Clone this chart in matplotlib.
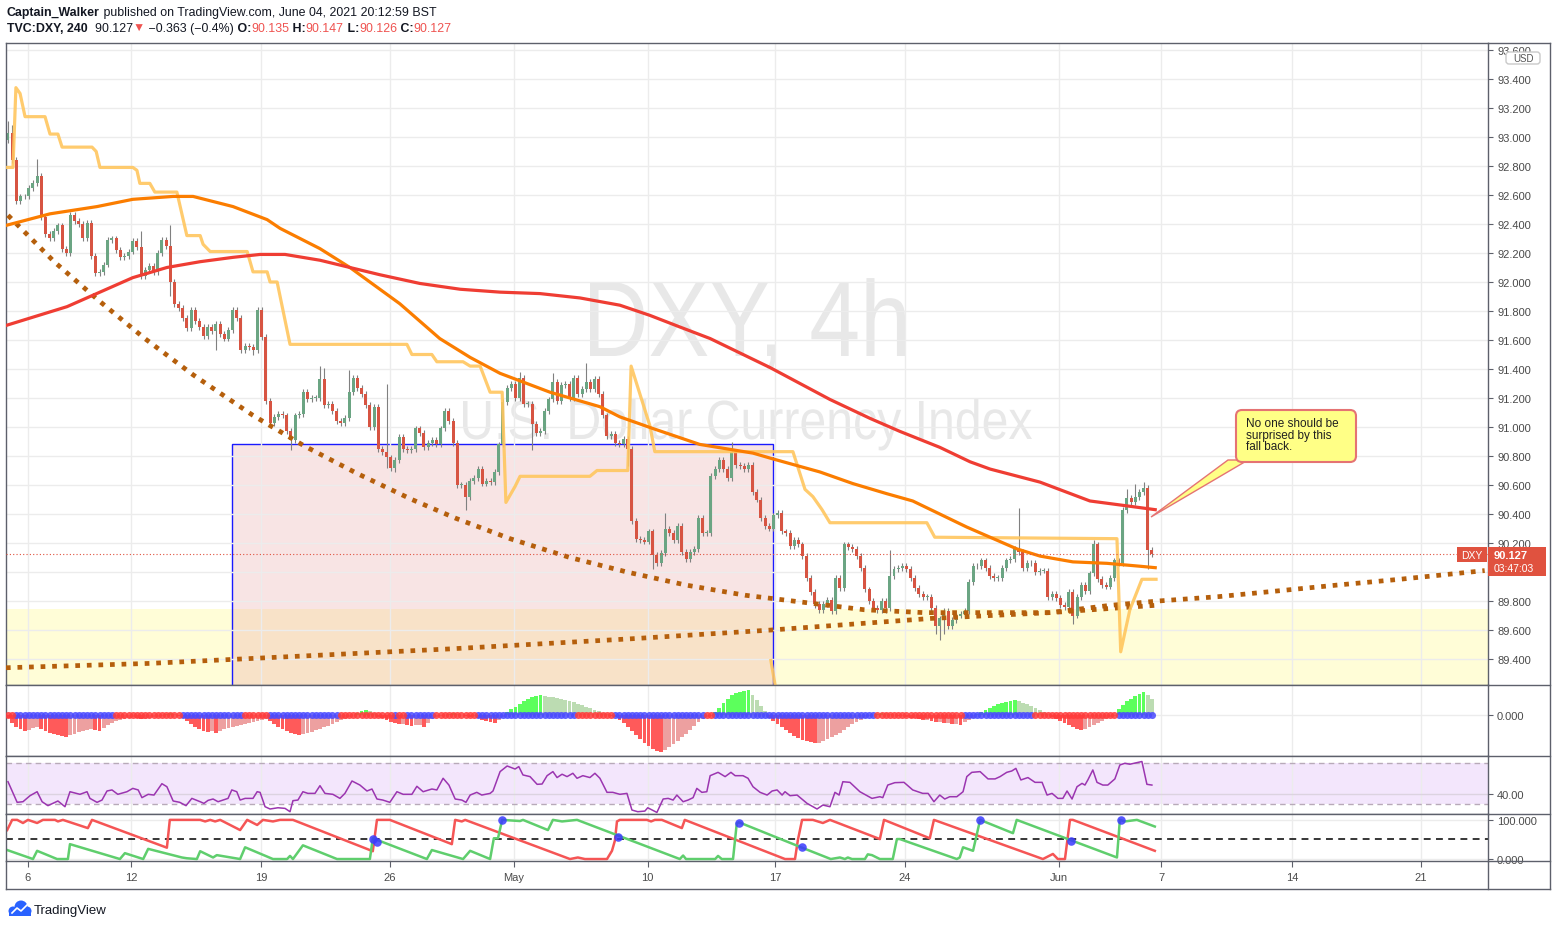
import numpy as np
import matplotlib
matplotlib.use("Agg")
import matplotlib.pyplot as plt
from matplotlib.patches import Rectangle, FancyBboxPatch, Polygon, PathPatch, Circle
from matplotlib.lines import Line2D
from matplotlib.textpath import TextPath
from matplotlib.font_manager import FontProperties
from matplotlib.transforms import Affine2D, IdentityTransform

# ---------------- data (TVC:DXY, 4h bars) ----------------
first_open = 92.98
closes = [
    93.03, 92.84, 92.56, 92.59, 92.59, 92.65, 92.68, 92.73, 92.45, 92.33,
    92.30, 92.35, 92.39, 92.23, 92.20, 92.46, 92.42, 92.40, 92.30, 92.41,
    92.18, 92.06, 92.07, 92.12, 92.29, 92.30, 92.22, 92.17, 92.18, 92.21,
    92.28, 92.24, 92.04, 92.08, 92.11, 92.07, 92.20, 92.29, 92.25, 92.00,
    91.85, 91.82, 91.75, 91.68, 91.81, 91.73, 91.69, 91.63, 91.69, 91.66,
    91.71, 91.64, 91.61, 91.67, 91.81, 91.75, 91.53, 91.56, 91.55, 91.53,
    91.81, 91.62, 91.18,
    91.03, 91.07, 91.09, 91.08, 90.97, 90.91, 91.08, 91.09, 91.24, 91.19,
    91.20, 91.20, 91.33, 91.15, 91.16, 91.11, 91.04, 91.03, 91.06, 91.24,
    91.34, 91.27, 91.23, 91.15, 91.00, 91.14, 90.85, 90.83, 90.79, 90.72,
    90.77, 90.93, 90.85, 90.84, 90.85, 90.99, 90.96, 90.86, 90.89, 90.91,
    90.88, 90.99, 91.11, 91.04, 90.89, 90.60, 90.60, 90.52, 90.63, 90.65,
    90.71, 90.61, 90.63, 90.62, 90.69, 90.88, 91.17, 91.27, 91.30, 91.20,
    91.34, 91.16, 91.16, 91.02, 90.96, 90.97, 91.11, 91.19, 91.31, 91.18,
    91.29, 91.30, 91.20, 91.34, 91.23, 91.26, 91.31, 91.26, 91.33, 91.23,
    91.08, 90.94, 90.95, 90.89, 90.88, 90.92, 90.85, 90.35,
    90.23, 90.22, 90.21, 90.28, 90.12, 90.06, 90.13, 90.30, 90.27, 90.22,
    90.32, 90.14, 90.09, 90.14, 90.16, 90.37, 90.27, 90.27, 90.66, 90.71,
    90.77, 90.71, 90.65, 90.83, 90.74, 90.73, 90.71, 90.74, 90.55, 90.50,
    90.37, 90.32, 90.30, 90.39, 90.41, 90.28, 90.27, 90.18, 90.22, 90.19,
    90.11, 89.96, 89.86, 89.78, 89.74, 89.78, 89.81, 89.73, 89.96, 89.89,
    90.19, 90.17, 90.16, 90.11, 90.03, 89.88, 89.80, 89.75, 89.74, 89.80,
    89.75, 89.97, 90.02, 90.03, 90.04, 90.02, 89.96, 89.89, 89.85, 89.83,
    89.83, 89.75, 89.63, 89.68, 89.73, 89.63, 89.67, 89.70, 89.71, 89.73,
    89.93,
    90.04, 90.04, 90.08, 90.03, 89.97, 89.96, 89.96, 90.03, 90.08, 90.09,
    90.16, 90.14, 90.03, 90.06, 90.06, 90.00, 90.01, 90.01, 89.83, 89.85,
    89.82, 89.77, 89.76, 89.86, 89.70, 89.83, 89.91, 89.87, 89.99, 90.19,
    89.95, 89.91, 89.90, 89.96, 90.08, 90.06, 90.43, 90.51, 90.48, 90.52,
    90.55, 90.58, 90.15, 90.127,
]
# longer wicks visible on the chart (bar index: price)
hi_ext = {0: 93.11, 1: 93.08, 7: 92.85, 32: 92.35, 39: 92.39, 75: 91.42, 76: 91.41,
          82: 91.39, 91: 91.30, 105: 91.13, 123: 91.38, 131: 91.37, 139: 91.44,
          158: 90.41, 174: 90.90, 212: 90.15, 243: 90.44, 261: 90.22, 269: 90.57,
          271: 90.61, 273: 90.62}
lo_ext = {2: 92.54, 39: 91.90, 50: 91.53, 59: 91.50, 68: 90.84, 91: 90.72, 93: 90.69,
          110: 90.43, 126: 90.84, 149: 90.73, 155: 90.02, 194: 89.75, 211: 89.72,
          223: 89.57, 224: 89.53, 225: 89.57, 256: 89.64, 274: 90.02}

# moving averages / study lines as (bar index, price) vertices
ma_red_i = [-0.5, 14.2, 30.0, 38.2, 46.2, 54.1, 60.6, 66.6, 75.0, 82.2, 89.4, 99.0, 108.7,
            118.3, 127.9, 137.5, 147.1, 154.3, 161.5, 168.8, 176.0, 183.2, 190.4, 197.6,
            207.2, 214.4, 224.0, 231.3, 236.1, 248.1, 260.1, 268.0, 275.8]
ma_red_p = [91.70, 91.83, 92.03, 92.10, 92.14, 92.17, 92.19, 92.19, 92.15, 92.10, 92.05,
            91.99, 91.95, 91.93, 91.92, 91.89, 91.84, 91.77, 91.69, 91.61, 91.51, 91.41,
            91.30, 91.19, 91.06, 90.97, 90.86, 90.76, 90.71, 90.62, 90.49, 90.46, 90.43]
ma_org_i = [-0.5, 10.1, 21.4, 30.0, 39.7, 44.5, 54.1, 62.3, 65.4, 75.0, 82.2, 94.2, 103.8,
            111.1, 118.3, 130.3, 142.3, 147.1, 155.0, 166.3, 179.1, 183.9, 195.2, 203.1,
            211.3, 217.5, 224.0, 230.5, 236.1, 242.5, 248.1, 256.0, 264.2, 272.1, 275.8]
ma_org_p = [92.39, 92.47, 92.52, 92.57, 92.59, 92.59, 92.52, 92.43, 92.37, 92.23, 92.10,
            91.85, 91.61, 91.48, 91.37, 91.24, 91.14, 91.07, 90.99, 90.88, 90.82, 90.78,
            90.69, 90.61, 90.54, 90.49, 90.40, 90.31, 90.24, 90.16, 90.11, 90.07, 90.06,
            90.04, 90.03]
stop_i = [-0.5, 1.2, 1.9, 2.9, 4.1, 8.9, 10.1, 12.0, 13.0, 20.2, 21.2, 22.1, 30.0, 31.0,
          31.7, 34.1, 35.3, 40.6, 43.0, 46.2, 46.9, 48.6, 57.5, 58.9, 62.3, 63.0, 64.7,
          67.8, 95.9, 97.1, 101.9, 103.1, 109.4, 111.1, 113.5, 115.9, 118.8, 119.7, 121.9,
          123.1, 139.9, 141.6, 149.0, 149.8, 154.3, 155.5, 188.7, 191.6, 193.5, 195.7,
          197.6, 220.9, 222.8, 266.6, 267.5, 269.7, 272.6, 276.0]
stop_p = [92.79, 92.79, 93.34, 93.30, 93.14, 93.14, 93.02, 93.02, 92.93, 92.93, 92.90,
          92.79, 92.79, 92.77, 92.68, 92.68, 92.62, 92.62, 92.32, 92.32, 92.26, 92.21,
          92.21, 92.07, 92.07, 92.00, 92.00, 91.57, 91.57, 91.50, 91.50, 91.45, 91.45,
          91.42, 91.42, 91.24, 91.24, 90.48, 90.59, 90.66, 90.66, 90.70, 90.70, 91.42,
          91.01, 90.83, 90.83, 90.57, 90.52, 90.43, 90.34, 90.34, 90.24, 90.23, 89.45,
          89.74, 89.95, 89.95]
stop_tail_i = [183.4, 184.6]
stop_tail_p = [89.39, 89.19]
curve_i = [0, 11.1, 21.9, 32.9, 44.5, 58.9, 71.2, 83.9, 97.1, 107.7, 120.7, 135.1, 148.8,
           163.0, 177.2, 191.6, 205.8, 220.2, 234.9, 250.5, 264.9, 276.4, 290.9, 305.3,
           319.5, 334.6, 355.0]
curve_p = [92.46, 92.14, 91.87, 91.61, 91.36, 91.08, 90.87, 90.68, 90.50, 90.37, 90.23,
           90.10, 90.00, 89.91, 89.84, 89.79, 89.74, 89.72, 89.72, 89.72, 89.77, 89.80,
           89.83, 89.87, 89.91, 89.95, 90.01]
slow_i = [-0.5, 34.1, 70.2, 106.3, 150.0, 183.4, 221.9, 250.5, 275.7]
slow_p = [89.34, 89.37, 89.42, 89.47, 89.54, 89.60, 89.68, 89.72, 89.77]

zone_pink = (53.8, 183.9, 90.883)   # bar from, bar to, top price
zone_yellow_top = 89.745
last_price = 90.127

# squeeze momentum histogram (per bar, x0.01)
squeeze = [
    -3, -8, -12, -14, -16, -15, -13, -12, -14, -16, -18, -19, -20, -21, -22,
    -20, -19, -17, -16, -15, -14, -15, -16, -13, -10, -8, -6, -5, -4,
    -3, -2, -3, -4, -4, -3, -2, -2, -1, 1, 2, 1, -1,
    -3, -6, -9, -12, -14, -16, -17, -16, -18, -16, -14, -13, -12, -11, -10,
    -9, -8, -7, -6, -5, -4, -6, -9, -12, -14, -16, -18, -19, -20,
    -19, -18, -17, -15, -14, -12, -11, -9, -7, -5, -4, -2, 0, 2, 4, 5, 4, 2,
    -2, -3, -5, -7, -8, -9, -9, -10, -11, -10, -10, -12, -8, -4,
    -2, -1, 0, 1, 2, 1, 0, -1, -2, -1, -3, -5, -6, -7, -8, -5, -2,
    3, 6, 8, 11, 14, 16, 18, 19, 20, 19, 18, 18,
    17, 16, 15, 14, 13, 11, 10, 8, 7, 5, 4, 2, 1, -1, -2,
    -5, -8, -12, -16, -20, -24, -28, -31, -34, -36, -37,
    -35, -32, -29, -26, -22, -19, -15, -11, -7, -4, -2, -1,
    3, 7, 12, 16, 20, 22, 23, 24, 25, 20, 15, 9, 4,
    -3, -6, -9, -12, -15, -18, -21, -23, -25, -26, -27, -28, -28,
    -26, -24, -22, -20, -18, -15, -12, -9, -7, -5, -3,
    -1, 0, 1, 2, 2, 1, 0, -1, -1, -2,
    -3, -3, -4, -5, -5, -6, -7, -7, -8, -8, -9, -9, -10, -7, -5, -3,
    1, 3, 5, 7, 9, 11, 12, 13, 14, 15, 14, 12, 11, 9, 7, 5, 3, 1, -2,
    -4, -6, -8, -10, -12, -14, -15, -14, -12, -10, -8, -6, -4, -2, -1,
    6, 10, 14, 16, 19, 21, 23, 20, 16,
]
squeeze_on_runs = [(0, 1), (26, 41), (57, 62), (80, 92), (94, 95), (103, 112),
                   (137, 145), (168, 169), (209, 229), (247, 266)]

rsi_i = [0.0, 2.2, 3.6, 5.3, 7.0, 8.2, 9.6, 12.0, 13.7, 14.9, 17.3, 19.0, 19.7, 21.4, 22.6,
         23.8, 25.0, 26.4, 28.6, 30.0, 31.3, 32.2, 33.7, 35.1, 37.0, 38.2, 39.7, 41.3, 42.8,
         44.2, 46.2, 47.1, 48.1, 49.3, 50.5, 52.9, 53.8, 55.0, 55.8, 57.0, 58.9, 59.9, 60.6,
         61.8, 63.0, 64.9, 66.6, 67.8, 68.5, 69.7, 70.9, 72.1, 73.8, 75.0, 76.2, 78.1, 79.8,
         81.0, 82.7, 84.6, 86.3, 87.5, 88.7, 90.1, 91.8, 93.5, 95.0, 97.1, 98.3, 99.8,
         101.9, 103.1, 104.6, 106.0, 107.5, 109.1, 110.1, 111.1, 112.7, 113.9, 115.9, 116.6,
         118.3, 120.0, 121.9, 122.8, 123.8, 125.5, 127.2, 128.4, 129.6, 131.0, 132.0, 133.2,
         134.4, 135.8, 136.8, 138.2, 139.9, 141.1, 142.3, 144.0, 145.4, 147.1, 148.8, 150.0,
         151.4, 153.1, 153.8, 156.0, 157.5, 158.7, 159.9, 160.8, 162.3, 163.5, 164.7, 165.6,
         166.8, 168.0, 168.8, 170.7, 172.4, 173.8, 174.8, 176.7, 177.9, 179.1, 180.8, 182.5,
         183.7, 184.9, 186.1, 186.8, 188.0, 189.7, 192.1, 194.5, 195.9, 197.6, 198.8, 199.8,
         200.7, 202.4, 204.8, 207.7, 209.6, 210.3, 211.5, 213.2, 215.4, 217.5, 219.9, 221.2,
         222.6, 224.0, 225.2, 226.4, 228.1, 229.6, 230.5, 231.7, 233.7, 235.6, 237.3, 238.5,
         240.1, 241.3, 242.3, 243.5, 245.2, 246.9, 248.6, 249.8, 251.0, 252.4, 253.6, 254.6,
         255.8, 257.0, 258.2, 258.9, 259.6, 260.8, 261.8, 263.2, 264.4, 266.1, 267.3, 268.5,
         269.7, 272.6, 273.8, 275.0]
rsi_v = [51.8, 32.0, 32.6, 38.4, 42.2, 32.6, 28.8, 33.3, 27.8, 42.2, 39.7, 42.2, 35.8, 32.0,
         34.2, 42.9, 43.9, 39.7, 42.2, 45.4, 43.9, 36.5, 39.7, 39.0, 49.9, 47.0, 33.3, 32.0,
         28.8, 35.8, 32.6, 31.0, 33.9, 35.2, 32.6, 35.8, 43.9, 42.2, 34.2, 35.8, 35.8, 42.2,
         41.6, 27.8, 25.6, 26.8, 26.2, 23.0, 33.6, 34.2, 42.2, 40.6, 40.6, 48.0, 40.6, 39.7,
         35.8, 40.6, 52.5, 48.6, 42.9, 44.8, 35.2, 34.2, 32.0, 42.2, 39.7, 39.7, 47.4, 42.2,
         44.8, 43.9, 55.1, 48.6, 35.2, 34.2, 32.0, 39.0, 41.6, 39.0, 40.6, 42.9, 61.5, 66.9,
         64.0, 66.3, 58.3, 56.7, 49.3, 49.6, 57.6, 61.5, 55.8, 59.0, 56.7, 59.9, 55.1, 57.6,
         55.8, 59.9, 55.1, 41.6, 41.6, 39.7, 40.6, 24.6, 23.0, 23.6, 26.8, 22.3, 35.2, 35.8,
         34.2, 39.0, 32.6, 34.2, 36.5, 45.4, 41.6, 42.2, 57.6, 60.8, 56.7, 60.8, 57.6, 57.6,
         55.1, 47.0, 41.6, 39.0, 42.9, 43.9, 39.0, 42.2, 38.4, 39.0, 31.0, 25.6, 29.4, 27.8,
         41.6, 39.0, 51.8, 51.2, 42.2, 35.8, 37.4, 36.5, 48.6, 50.9, 51.2, 43.9, 40.6, 40.6,
         32.6, 39.0, 35.2, 37.4, 37.4, 42.2, 56.7, 60.8, 61.5, 54.5, 54.5, 56.7, 60.8, 62.1,
         64.6, 53.5, 55.8, 51.2, 51.2, 39.0, 40.6, 35.8, 35.8, 42.9, 35.2, 47.0, 50.2, 48.6,
         53.5, 63.1, 51.2, 48.6, 48.6, 54.5, 67.9, 69.5, 68.6, 71.2, 49.3, 48.6]

aroon_dn_i = [-0.2, 1.0, 2.2, 3.6, 4.8, 7.0, 8.4, 11.3, 12.0, 13.2, 19.2, 20.2, 38.2, 38.9,
              46.2, 47.4, 48.6, 49.8, 51.0, 55.8, 57.5, 59.9, 61.3, 63.7, 65.4, 68.5, 87.7,
              88.7, 91.8, 106.7, 107.5, 109.1, 109.9, 135.1, 137.0, 138.7, 144.0, 145.2,
              145.9, 146.4, 147.1, 153.6, 154.6, 155.5, 157.2, 162.0, 162.7, 186.8, 189.2,
              189.9, 190.9, 193.5, 195.9, 197.6, 209.6, 210.6, 221.6, 222.6, 248.8, 251.2,
              252.4, 254.1, 255.3, 256.0, 275.7]
aroon_dn_v = [74, 100, 100, 92, 100, 92, 100, 100, 96, 100, 79, 100, 29, 100, 100, 96, 100,
              96, 100, 74, 100, 87, 100, 96, 100, 100, 20, 100, 100, 38, 100, 96, 100, 0, 4,
              0, 0, 21, 47, 96, 100, 100, 96, 100, 100, 79, 100, 0, 0, 49, 100, 100, 92, 100,
              51, 100, 53, 100, 0, 13, 0, 0, 100, 100, 21]
aroon_up_i = [-0.2, 6.0, 7.0, 11.8, 14.4, 14.9, 26.9, 28.1, 32.5, 33.7, 41.8, 43.0, 45.4,
              46.2, 49.3, 50.2, 55.8, 57.0, 63.7, 67.1, 67.8, 68.5, 70.9, 79.1, 87.0, 87.7,
              100.7, 101.9, 109.4, 111.1, 115.9, 116.8, 117.8, 118.8, 123.1, 123.8, 129.8,
              131.0, 133.2, 136.8, 161.5, 162.3, 163.0, 170.0, 170.7, 171.6, 174.3, 175.2,
              175.7, 190.9, 197.8, 200.0, 201.2, 201.9, 202.9, 206.0, 206.7, 207.7, 209.6,
              212.7, 213.7, 214.4, 228.1, 228.8, 229.6, 232.0, 233.7, 241.6, 242.5, 266.6,
              267.3, 268.5, 271.4, 275.7]
aroon_up_v = [23, 0, 21, 0, 0, 38, 0, 15, 0, 26, 4, 2, 0, 20, 4, 10, 0, 30, 0, 0, 8, 0, 35,
              0, 0, 53, 0, 23, 0, 21, 0, 53, 53, 100, 97, 100, 74, 100, 96, 100, 0, 9, 0, 0,
              8, 0, 0, 91, 94, 29, 0, 4, 0, 4, 0, 0, 12, 10, 0, 0, 51, 51, 0, 4, 30, 21, 100,
              66, 100, 4, 100, 96, 100, 83]
cross_i = [87.7, 88.7, 118.8, 146.6, 175.7, 190.9, 233.7, 255.5, 267.5]
cross_v = [52, 44, 100, 57, 92, 31, 100, 46, 100]

date_ticks = [4.8, 29.6, 60.8, 91.8, 121.6, 153.8, 184.4, 215.6, 252.6, 277.2, 308.7, 339.7]
date_labels = ['6', '12', '19', '26', 'May', '10', '17', '24', 'Jun', '7', '14', '21']

# ---------------- figure layout ----------------
W, H = 1557, 929
fig = plt.figure(figsize=(W / 100, H / 100), dpi=100)
fig.patch.set_facecolor('white')
FONT = ['Liberation Sans', 'DejaVu Sans']
plt.rcParams['font.family'] = FONT
EDGE = '#5d606b'
GRID = '#ececec'
LBL = '#4a4a4a'
XL = (-0.48, 355.8)


def pane(top, bottom):
    a = fig.add_axes([6 / W, 1 - bottom / H, 1482 / W, (bottom - top) / H])
    a.set_xlim(*XL)
    a.yaxis.tick_right()
    a.tick_params(axis='y', direction='out', length=3.5, color=EDGE, labelsize=8,
                  labelcolor=LBL, pad=3)
    a.set_xticks(date_ticks)
    a.tick_params(axis='x', length=0, labelbottom=False)
    a.grid(axis='x', color=GRID, lw=1, zorder=0)
    for s in a.spines.values():
        s.set_color(EDGE)
        s.set_linewidth(1)
    a.set_axisbelow(True)
    return a


ax = pane(44, 686)
axm = pane(686, 757)
axr = pane(757, 815)
axa = pane(815, 862)

# ---------------- main price pane ----------------
ax.set_ylim(89.221, 93.648)
pticks = np.round(np.arange(89.4, 93.61, 0.2), 1)
ax.set_yticks(pticks)
# the 90.000 label sits under the last-price tag on the chart
ax.set_yticklabels(['' if abs(t - 90.0) < 1e-6 else '%.3f' % t for t in pticks])
ax.grid(axis='y', color=GRID, lw=1, zorder=0)

ax.axhspan(89.0, zone_yellow_top, color='#fffdd7', lw=0, zorder=0.2)
ax.add_patch(Rectangle((zone_pink[0], 89.0), zone_pink[1] - zone_pink[0], zone_pink[2] - 89.0,
                       facecolor=(0.92, 0.65, 0.65, 0.3), edgecolor='#1a1aff', lw=1, zorder=0.3))


def watermark(text, x0, x1, ytop, ybase, color):
    fp = FontProperties(family='Liberation Sans')
    tp = TextPath((0, 0), text, size=100, prop=fp)
    bb = tp.get_extents()
    cap = TextPath((0, 0), 'D', size=100, prop=fp).get_extents().height
    tr = Affine2D().translate(-bb.x0, 0).scale((x1 - x0) / bb.width, (ybase - ytop) / cap)
    tr = tr.translate(x0, H - ybase)
    ax.add_patch(PathPatch(tr.transform_path(tp), transform=IdentityTransform(),
                           facecolor=color, lw=0, zorder=0.5))


watermark('DXY, 4h', 590, 905, 283, 357, '#e8e8e8')
watermark('U.S. Dollar Currency Index', 463, 1032, 402, 440, '#e8e8e8')

idx = np.arange(len(closes))
c = np.array(closes)
o = np.array([first_open] + closes[:-1])
hi = np.maximum(o, c) + 0.02
lo = np.minimum(o, c) - 0.02
for k, v in hi_ext.items():
    hi[k] = max(hi[k], v)
for k, v in lo_ext.items():
    lo[k] = min(lo[k], v)
up = c >= o
ax.vlines(idx, lo, hi, color='#808080', lw=0.8, zorder=2)
ax.bar(idx, np.maximum(np.abs(c - o), 0.005), bottom=np.minimum(o, c), width=0.72,
       color=np.where(up, '#6ba583', '#d75442'), zorder=2.1)

dot = dict(ls=(0, (1, 1.45)), lw=3.4, color='#b55f0c', dash_capstyle='butt', zorder=3)
ax.plot(curve_i, curve_p, **dot)
ax.plot(slow_i, slow_p, **dot)
ax.plot(stop_i, stop_p, color='#ffc65e', lw=2.3, alpha=0.9, zorder=3.1, solid_joinstyle='round')
ax.plot(stop_tail_i, stop_tail_p, color='#ffc65e', lw=2.3, alpha=0.9, zorder=3.1)
ax.plot(ma_org_i, ma_org_p, color='#fb7d00', lw=2.3, zorder=3.2)
ax.plot(ma_red_i, ma_red_p, color='#ef3d33', lw=2.3, zorder=3.3)
ax.axhline(last_price, color='#e0523f', lw=0.8, ls=(0, (1, 2)), zorder=3.4)

# ---------------- squeeze momentum pane ----------------
axm.set_ylim(-0.41, 0.30)
axm.set_yticks([0])
axm.set_yticklabels(['0.000'])
axm.grid(axis='y', color=GRID, lw=1)
sq = np.array(squeeze) / 100.0
prev = np.concatenate([[0], sq[:-1]])
cols = []
for v, p in zip(sq, prev):
    if v >= 0:
        cols.append('#5cff5c' if v > p else '#bcdcb2')
    else:
        cols.append('#ff5a5a' if v < p else '#eda0a0')
axm.bar(np.arange(len(sq)), sq, width=0.92, color=cols, zorder=2)
on = np.zeros(len(sq), bool)
for a, b in squeeze_on_runs:
    on[a:b + 1] = True
sx = np.arange(len(sq))
axm.scatter(sx[~on], np.zeros((~on).sum()), s=26, color='#4a4aff', alpha=0.85, lw=0, zorder=3)
axm.scatter(sx[on], np.zeros(on.sum()), s=26, color='#ff3b3b', alpha=0.85, lw=0, zorder=3)

# ---------------- RSI pane ----------------
axr.set_ylim(20.8, 76.5)
axr.set_yticks([40])
axr.set_yticklabels(['40.00'])
axr.grid(axis='y', color='#dcd3e0', lw=1)
axr.axhspan(30, 70, color='#f3e6fc', lw=0, zorder=0.5)
for lvl in (30, 70):
    axr.axhline(lvl, color='#b8aab9', lw=1, ls=(0, (4, 3)), zorder=1)
axr.plot(rsi_i, rsi_v, color='#9b35b0', lw=1.1, zorder=3)

# ---------------- Aroon pane ----------------
axa.set_ylim(-5, 115)
axa.set_yticks([0, 100])
axa.set_yticklabels(['0.000', '100.000'])
axa.grid(axis='y', color=GRID, lw=1)
axa.axhline(50, color='black', lw=1.1, ls=(0, (4.5, 3.5)), zorder=1)
axa.plot(aroon_dn_i, aroon_dn_v, color='#f55555', lw=1.8, zorder=2)
axa.plot(aroon_up_i, aroon_up_v, color='#5fce6d', lw=1.8, zorder=2.1)
axa.scatter(cross_i, cross_v, s=38, color='#3a3aff', alpha=0.85, lw=0, zorder=3)
axa.set_xticklabels(date_labels)
axa.tick_params(axis='x', length=4, color=EDGE, labelbottom=True, labelsize=8,
                labelcolor=LBL, pad=4)

# ---------------- frame, labels, annotations (pixel coordinates) ----------------
PX = IdentityTransform()


def hline(y, x0, x1, color=EDGE):
    fig.add_artist(Line2D([x0, x1], [H - y, H - y], transform=PX, color=color, lw=1))


def vline(x, y0, y1, color=EDGE):
    fig.add_artist(Line2D([x, x], [H - y0, H - y1], transform=PX, color=color, lw=1))


for yy in (44, 686, 757, 815, 862):
    hline(yy, 1488, 1550)
hline(890, 6, 1550)
vline(1550, 44, 890)
vline(6, 862, 890)
vline(1488, 862, 890)

fig.add_artist(FancyBboxPatch((1506, H - 65), 34, 12, boxstyle='round,pad=0,rounding_size=3',
                              transform=PX, facecolor='white', edgecolor='#c9c9c9', lw=1, zorder=10))
fig.text(1523 / W, 1 - 59 / H, 'USD', fontsize=7, color='#555555', ha='center', va='center',
         zorder=11)

fig.add_artist(Rectangle((1488, H - 577), 58, 29, transform=PX, facecolor='#e0523f',
                         lw=0, zorder=10))
fig.add_artist(Rectangle((1457, H - 563), 30, 15, transform=PX, facecolor='#e0523f',
                         lw=0, zorder=10))
fig.text(1472 / W, 1 - 556 / H, 'DXY', fontsize=7.5, color='white', ha='center', va='center',
         zorder=11)
fig.text(1494 / W, 1 - 556 / H, '%.3f' % last_price, fontsize=8, color='white',
         fontweight='bold', ha='left', va='center', zorder=11)
fig.text(1494 / W, 1 - 569 / H, '03:47:03', fontsize=7.5, color='white', ha='left',
         va='center', zorder=11)

# callout
fig.add_artist(Polygon([(1151, H - 518), (1228, H - 461), (1248, H - 461)], closed=True,
                       transform=PX, facecolor='#ffff86', edgecolor='#e57373', lw=1, zorder=6))
fig.add_artist(FancyBboxPatch((1236, H - 463), 120, 52,
                              boxstyle='round,pad=0,rounding_size=6', transform=PX,
                              facecolor='#ffff86', edgecolor='#e57373', lw=1.5, zorder=7))
fig.text(1246 / W, 1 - 418 / H, 'No one should be\nsurprised by this\nfall back.',
         fontsize=8.5, color='#202020', ha='left', va='top', linespacing=0.95, zorder=8)

# header
renderer = fig.canvas.get_renderer()


def runs(x, y, parts, size=8.9):
    for txt, col, bold in parts:
        t = fig.text(x / W, 1 - y / H, txt, color=col, fontsize=size,
                     fontweight='bold' if bold else 'normal', family=FONT,
                     ha='left', va='center')
        x += t.get_window_extent(renderer).width


DARK = '#131722'
RED = '#ef5350'
runs(7, 13, [('Captain_Walker', DARK, True),
             (' published on TradingView.com, June 04, 2021 20:12:59 BST', DARK, False)])
runs(7, 29, [('TVC:DXY, 240', DARK, True), ('  90.127', DARK, False), ('\u25bc', RED, False),
             (' \u22120.363 (\u22120.4%)', DARK, False), (' O:', DARK, True), ('90.135', RED, False),
             (' H:', DARK, True), ('90.147', RED, False), (' L:', DARK, True),
             ('90.126', RED, False), (' C:', DARK, True), ('90.127', RED, False)])

# TradingView logo
for cx, cy, r in ((21, 908, 6.5), (13, 912, 4.5), (27, 912, 4.5)):
    fig.add_artist(Circle((cx, H - cy), r, transform=PX, color='#2962ff', lw=0, zorder=5))
fig.add_artist(Rectangle((9, H - 917), 22, 5, transform=PX, color='#2962ff', lw=0, zorder=5))
fig.add_artist(Line2D([12, 17, 21, 27], [H - 914, H - 909, H - 912, H - 906], transform=PX,
                      color='white', lw=1.2, zorder=6))
fig.text(34 / W, 1 - 911 / H, 'TradingView', fontsize=9.5, color='#131722', ha='left',
         va='center')

fig.savefig('out.png', dpi=100)
